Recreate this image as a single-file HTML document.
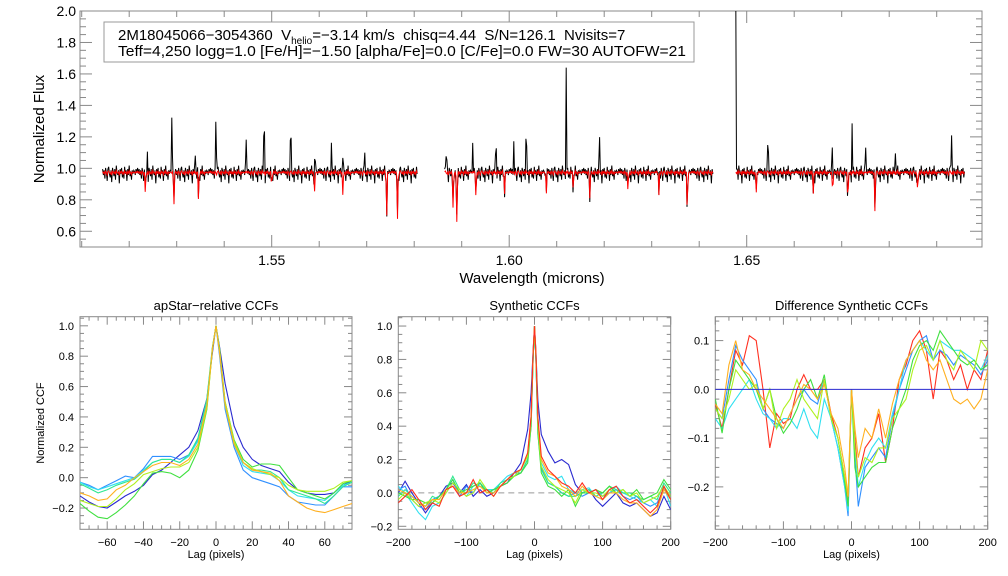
<!DOCTYPE html>
<html><head><meta charset="utf-8">
<style>
html,body{margin:0;padding:0;background:#fff;}
svg{display:block;font-family:"Liberation Sans",Arial,sans-serif;}
</style></head>
<body>
<svg id="chart" width="1008" height="576" viewBox="0 0 1008 576" xmlns="http://www.w3.org/2000/svg">
<rect width="1008" height="576" fill="#fff"/>
<g id="top"></g>
<g id="p1"></g>
<g id="p2"></g>
<g id="p3"></g>
<g>
<rect x="104" y="22" width="590" height="40" fill="#fff" stroke="#999" stroke-width="1"/>
<text x="118" y="40" font-size="15" fill="#000" style="white-space:pre" xml:space="preserve">2M18045066−3054360  V<tspan font-size="10" dy="4">helio</tspan><tspan dy="-4">=−3.14 km/s  chisq=4.44  S/N=126.1  Nvisits=7</tspan></text>
<text x="118" y="56" font-size="15" fill="#000" textLength="568" lengthAdjust="spacingAndGlyphs">Teff=4,250 logg=1.0 [Fe/H]=−1.50 [alpha/Fe]=0.0 [C/Fe]=0.0 FW=30 AUTOFW=21</text>
</g>
</svg>
<script>
// ---------- spectrum data ----------
const specSegments=[[1.5144,1.5807],[1.5864,1.6430],[1.6477,1.6959]];
const emissionWl=[1.5238,1.5290,1.5339,1.5383,1.5446,1.5484,1.5540,1.5591,1.5626,1.5650,1.5696,1.5868,1.5923,1.5972,1.6010,1.6036,1.6120,1.6190,1.6477,1.6545,1.6680,1.6722,1.6750,1.6813,1.6931];
const emissionPeak=[1.12,1.42,1.12,1.48,1.23,1.52,1.38,1.26,1.17,1.28,1.11,1.22,1.15,1.30,1.20,1.35,1.62,1.25,2.05,1.28,1.22,1.28,1.20,1.15,1.30];
const absorbWl=[1.5234,1.5294,1.5346,1.5500,1.5590,1.5650,1.5742,1.5765,1.5882,1.5890,1.5930,1.5990,1.6078,1.6135,1.6170,1.6250,1.6315,1.6375,1.6520,1.6640,1.6681,1.6713,1.6770,1.6860];
const absorbDepth=[0.82,0.73,0.78,0.88,0.83,0.82,0.67,0.66,0.70,0.60,0.80,0.83,0.82,0.86,0.80,0.84,0.83,0.70,0.84,0.84,0.82,0.76,0.72,0.83];
const noise=[0.02,-0.03,0.01,-0.06,0.03,-0.01,-0.08,0.02,0.04,-0.02,-0.05,0.01,-0.09,0.03,0.00,-0.04,0.02,-0.07,0.05,-0.01,-0.03,0.01,-0.10,0.02,-0.02,0.03,-0.05,0.00,-0.06,0.04,-0.02,0.01,-0.08,0.02,-0.03,0.05,-0.04,0.00,-0.07,0.01,-0.02,0.01,0.00,-0.03,0.02,-0.01,0.03,-0.02];
const fluxTicks=[0.6,0.8,1.0,1.2,1.4,1.6,1.8,2.0];
const wlTicks=[1.55,1.60,1.65];

// ---------- CCF data ----------
const colors=["#2a2ad0","#3090ff","#30e0f0","#30e890","#40e040","#b0f020","#ffb020","#ff3020"];
const lag1=[-75,-70,-65,-60,-55,-50,-45,-40,-35,-30,-25,-20,-15,-10,-5,-2,0,2,5,10,15,20,25,30,35,40,45,50,55,60,65,70,75];
const ccf1=[
[-0.12,-0.16,-0.19,-0.20,-0.16,-0.12,-0.09,-0.05,0.02,0.05,0.10,0.15,0.20,0.31,0.52,0.82,1.0,0.86,0.62,0.34,0.20,0.12,0.08,0.06,0.04,-0.03,-0.08,-0.10,-0.11,-0.11,-0.10,-0.05,-0.02],
[-0.03,-0.05,-0.08,-0.05,-0.02,0.01,0.00,0.06,0.14,0.14,0.14,0.12,0.15,0.25,0.50,0.85,1.0,0.80,0.45,0.20,0.05,0.00,-0.02,-0.04,-0.06,-0.12,-0.16,-0.17,-0.18,-0.18,-0.12,-0.06,-0.06],
[-0.03,-0.06,-0.08,-0.06,-0.04,-0.02,0.00,0.05,0.10,0.12,0.12,0.10,0.14,0.24,0.50,0.85,1.0,0.82,0.47,0.22,0.08,0.04,0.03,0.02,-0.02,-0.08,-0.12,-0.13,-0.14,-0.15,-0.10,-0.05,-0.03],
[-0.04,-0.07,-0.10,-0.08,-0.05,-0.03,-0.01,0.04,0.10,0.12,0.12,0.10,0.15,0.26,0.52,0.86,1.0,0.83,0.48,0.23,0.10,0.05,0.05,0.04,0.00,-0.08,-0.10,-0.12,-0.14,-0.17,-0.12,-0.06,-0.03],
[-0.17,-0.22,-0.26,-0.27,-0.23,-0.18,-0.12,-0.04,0.03,0.04,0.03,0.00,0.05,0.18,0.45,0.85,1.0,0.85,0.50,0.25,0.12,0.07,0.09,0.09,0.08,0.00,-0.08,-0.10,-0.12,-0.14,-0.10,-0.04,-0.02],
[-0.15,-0.17,-0.19,-0.19,-0.14,-0.08,-0.04,0.02,0.04,0.06,0.07,0.07,0.10,0.20,0.46,0.84,1.0,0.84,0.50,0.24,0.10,0.06,0.04,0.02,0.00,-0.05,-0.08,-0.09,-0.09,-0.09,-0.07,-0.03,-0.02],
[-0.10,-0.12,-0.15,-0.14,-0.08,-0.05,0.00,0.04,0.08,0.10,0.10,0.08,0.12,0.22,0.48,0.85,1.0,0.82,0.48,0.22,0.10,0.05,0.04,0.03,-0.02,-0.12,-0.16,-0.20,-0.22,-0.23,-0.21,-0.19,-0.17]];
const ccf1Colors=[0,1,2,3,4,5,6];
const lag2=[-200,-190,-180,-170,-160,-150,-140,-130,-120,-110,-100,-90,-80,-70,-60,-50,-40,-30,-20,-10,-5,-2,0,2,5,10,20,30,40,50,60,70,80,90,100,110,120,130,140,150,160,170,180,190,200];
const ccf2=[
[0.00,0.07,0.00,-0.06,-0.12,-0.06,-0.02,0.04,0.06,0.00,0.05,-0.02,0.02,-0.02,0.00,0.04,0.06,0.12,0.18,0.38,0.60,0.85,1.0,0.85,0.55,0.35,0.25,0.18,0.20,0.17,0.05,0.00,0.02,-0.04,-0.08,-0.04,0.00,-0.06,-0.08,-0.06,-0.10,-0.14,-0.12,-0.02,-0.10],
[0.02,0.04,-0.04,-0.08,-0.10,-0.04,-0.02,0.02,0.08,-0.02,0.04,0.00,0.06,0.00,0.02,0.04,0.08,0.12,0.12,0.20,0.40,0.80,1.0,0.80,0.35,0.15,0.06,0.04,0.00,-0.02,0.00,-0.02,0.00,0.02,-0.02,0.00,0.02,-0.02,-0.04,-0.02,-0.06,-0.08,-0.06,0.02,-0.02],
[0.04,0.00,-0.06,-0.12,-0.16,-0.08,-0.06,0.00,0.06,0.02,-0.02,0.04,0.06,0.02,0.02,0.06,0.10,0.12,0.14,0.22,0.45,0.82,1.0,0.82,0.40,0.18,0.10,0.08,0.10,0.02,0.00,0.02,0.03,-0.02,-0.04,0.00,0.04,0.00,-0.02,-0.04,-0.06,-0.04,-0.08,0.04,-0.08],
[-0.02,0.02,-0.02,-0.06,-0.08,-0.02,-0.04,0.02,0.10,0.02,0.00,0.06,0.04,0.02,0.00,0.06,0.08,0.10,0.12,0.20,0.42,0.80,1.0,0.80,0.38,0.14,0.06,0.04,0.00,-0.02,-0.02,0.00,0.02,-0.02,0.00,0.04,0.02,0.00,0.00,-0.02,-0.04,-0.02,-0.04,0.06,0.00],
[0.00,-0.02,-0.04,-0.04,-0.06,-0.06,-0.02,0.02,0.08,0.00,0.02,0.04,0.06,0.00,0.02,0.04,0.06,0.10,0.12,0.18,0.40,0.80,1.0,0.80,0.36,0.12,0.04,0.02,-0.02,0.02,-0.08,0.00,0.00,0.02,0.00,0.04,0.00,0.02,-0.02,0.02,-0.04,-0.02,0.00,0.08,0.02],
[-0.04,0.00,-0.04,-0.08,-0.06,-0.04,-0.06,0.00,0.06,0.02,-0.02,0.00,0.08,0.02,-0.02,0.04,0.08,0.10,0.14,0.22,0.44,0.82,1.0,0.82,0.40,0.16,0.08,0.04,0.02,0.00,-0.06,0.02,0.00,0.00,-0.02,0.02,0.00,0.02,-0.02,0.00,-0.06,-0.04,-0.02,0.04,-0.02],
[0.02,0.00,-0.02,-0.06,-0.08,-0.04,-0.04,0.02,0.04,0.00,0.00,0.02,0.04,0.00,0.00,0.04,0.08,0.12,0.14,0.24,0.46,0.84,1.0,0.84,0.45,0.20,0.12,0.10,0.04,0.02,-0.02,0.04,0.00,-0.02,-0.04,0.00,0.00,-0.04,-0.06,-0.06,-0.10,-0.14,-0.10,0.02,-0.04],
[-0.06,-0.02,0.02,-0.04,-0.10,-0.06,-0.08,0.02,0.04,-0.02,0.00,0.08,0.00,0.02,-0.02,0.04,0.08,0.12,0.14,0.24,0.46,0.84,1.0,0.84,0.45,0.22,0.14,0.10,0.06,0.04,0.00,0.06,0.00,0.02,-0.04,0.02,0.04,-0.02,-0.06,-0.04,-0.08,-0.12,-0.08,0.04,-0.04]];
const ccf2Colors=[0,1,2,3,4,5,6,7];
const lag3=[-200,-190,-180,-170,-160,-150,-140,-130,-120,-110,-100,-90,-80,-70,-60,-50,-40,-30,-20,-10,-5,0,5,10,20,30,40,50,60,70,80,90,100,110,120,130,140,150,160,170,180,190,200];
const diff3=[
[-0.03,-0.08,0.00,0.08,0.05,0.11,0.10,0.00,-0.12,-0.05,-0.07,-0.06,0.00,0.03,0.00,0.00,0.02,-0.05,-0.10,-0.18,-0.24,0.00,-0.10,-0.18,-0.12,-0.10,-0.05,-0.15,-0.08,0.02,0.05,0.10,0.12,0.08,-0.02,0.08,0.06,0.02,0.05,0.00,0.04,0.02,0.08],
[-0.04,-0.06,0.02,0.09,0.06,0.04,0.02,-0.04,-0.06,-0.07,-0.08,-0.05,-0.02,0.00,-0.02,-0.03,0.02,-0.06,-0.12,-0.20,-0.26,0.00,-0.14,-0.24,-0.16,-0.14,-0.12,-0.14,-0.06,0.00,0.04,0.08,0.10,0.11,0.06,0.08,0.07,0.05,0.07,0.06,0.05,0.03,0.06],
[-0.06,-0.08,-0.04,-0.02,0.00,0.02,-0.02,-0.05,-0.06,-0.08,-0.06,-0.06,-0.08,-0.04,-0.08,-0.10,-0.02,-0.06,-0.12,-0.20,-0.25,0.00,-0.12,-0.20,-0.15,-0.12,-0.10,-0.12,-0.05,0.00,0.06,0.08,0.10,0.08,0.06,0.10,0.09,0.08,0.08,0.07,0.06,0.04,0.07],
[-0.02,-0.09,0.00,0.06,0.04,0.02,0.00,-0.04,0.00,-0.06,-0.09,-0.07,-0.04,0.00,0.02,-0.02,0.03,-0.06,-0.10,-0.19,-0.24,0.00,-0.16,-0.20,-0.18,-0.16,-0.15,-0.15,-0.08,-0.04,0.00,0.06,0.09,0.10,0.08,0.12,0.10,0.08,0.06,0.05,0.06,0.04,0.05],
[-0.04,-0.06,-0.02,0.04,0.02,0.00,0.01,-0.04,0.00,-0.08,-0.04,-0.02,0.02,-0.02,-0.04,-0.06,0.02,-0.06,-0.10,-0.18,-0.22,0.00,-0.12,-0.18,-0.14,-0.15,-0.12,-0.12,-0.06,-0.04,-0.02,0.04,0.08,0.09,0.06,0.10,0.06,0.04,0.08,0.06,0.04,0.10,0.08],
[-0.03,-0.05,0.05,0.10,0.04,0.03,0.00,-0.02,-0.04,-0.06,-0.08,-0.05,-0.02,0.01,0.00,-0.02,0.01,-0.05,-0.08,-0.16,-0.22,0.00,-0.08,-0.14,-0.08,-0.10,-0.04,-0.10,-0.03,0.02,0.06,0.08,0.10,0.06,0.04,0.06,0.02,-0.02,-0.03,-0.02,-0.04,-0.02,0.04]];
const diff3Colors=[7,1,2,4,5,6];

// ---------- helpers ----------
const NS="http://www.w3.org/2000/svg";
function mk(tag,attrs,parent){const e=document.createElementNS(NS,tag);for(const k in attrs)e.setAttribute(k,attrs[k]);parent.appendChild(e);return e;}
function lin(d0,d1,r0,r1){return v=>r0+(v-d0)*(r1-r0)/(d1-d0);}

function frame(g,x0,y0,x1,y1,xs,ys,xMaj,xMin,yMaj,yMin,tl){
  const f=mk('rect',{x:x0,y:y0,width:x1-x0,height:y1-y0,fill:'none',stroke:'#888','stroke-width':1},g);
  
  
  for(let v=Math.ceil(xs.d0/xMin-1e-6)*xMin;v<=xs.d1+1e-9;v+=xMin){
    const x=xs(v);const isMaj=Math.abs(v/xMaj-Math.round(v/xMaj))<1e-4;const L=isMaj?tl:tl/2;
    mk('line',{x1:x,x2:x,y1:y1,y2:y1-L,stroke:'#888'},g);mk('line',{x1:x,x2:x,y1:y0,y2:y0+L,stroke:'#888'},g);
  }
  for(let v=Math.ceil(ys.d0/yMin-1e-6)*yMin;v<=ys.d1+1e-9;v+=yMin){
    const y=ys(v);const isMaj=Math.abs(v/yMaj-Math.round(v/yMaj))<1e-4;const L=isMaj?tl:tl/2;
    mk('line',{x1:x0,x2:x0+L,y1:y,y2:y,stroke:'#888'},g);mk('line',{x1:x1,x2:x1-L,y1:y,y2:y,stroke:'#888'},g);
  }
}
function xlabels(g,xs,vals,y,fs,fmt){vals.forEach(v=>{const t=mk('text',{x:xs(v),y:y,'font-size':fs,'text-anchor':'middle'},g);t.textContent=fmt(v);
  
  });}
function ylabels(g,ys,vals,x,fs,fmt){vals.forEach(v=>{const t=mk('text',{x:x,y:ys(v)+fs*0.36,'font-size':fs,'text-anchor':'end'},g);t.textContent=fmt(v);
  
  });}
function num(v,d){return (v<0?'−':'')+Math.abs(v).toFixed(d);}
function title(g,txt,x,y,fs,rot,name){const t=mk('text',{x:x,y:y,'font-size':fs,'text-anchor':'middle'},g);if(rot)t.setAttribute('transform','rotate(-90 '+x+' '+y+')');t.textContent=txt;
  
  }

// ---------- top spectrum ----------
(function(){
  const g=document.getElementById('top');
  const xs=lin(1.55,1.65,271.7,746.7);xs.d0=1.5096;xs.d1=1.6995;
  const ys=lin(2.0,0.5,11,247);ys.d0=0.5;ys.d1=2.0;
  frame(g,80,11,982,247,xs,ys,0.05,0.01,0.2,0.05,12);
  xlabels(g,xs,wlTicks,265,14,v=>v.toFixed(2));
  ylabels(g,ys,fluxTicks,76,14,v=>v.toFixed(1));
  title(g,'Wavelength (microns)',532,283,15,false,'x-axis-title');
  title(g,'Normalized Flux',44,129,15,true,'y-axis-title');
  const clip=mk('clipPath',{id:'topclip'},g);mk('rect',{x:80,y:11,width:902,height:236},clip);
  function feat(wl,arrW,arrV,base,w){let s=0;for(let k=0;k<arrW.length;k++){const d=(wl-arrW[k])/w;if(Math.abs(d)<4)s+=(arrV[k]-base)*Math.exp(-d*d);}return s;}
  specSegments.forEach((seg,si)=>{
    let pb='',pr='';let i=0;
    for(let wl=seg[0];wl<=seg[1];wl+=0.00016,i++){
      const n=noise[(i+si*7)%noise.length];
      const fb=0.98+n*0.75+feat(wl,emissionWl,emissionPeak,0.975,0.00009)+feat(wl,absorbWl,absorbDepth,0.975,0.0001)*0.9;
      const fr=0.975+n*0.2+feat(wl,absorbWl,absorbDepth,0.975,0.0001);
      pb+=(pb?'L':'M')+xs(wl).toFixed(1)+' '+ys(fb).toFixed(1);
      pr+=(pr?'L':'M')+xs(wl).toFixed(1)+' '+ys(Math.min(fr,0.99)).toFixed(1);
    }
    const b=mk('path',{d:pb,fill:'none',stroke:'#000','stroke-width':1,'clip-path':'url(#topclip)'},g);
    
    
    const r=mk('path',{d:pr,fill:'none',stroke:'#f00','stroke-width':1,'clip-path':'url(#topclip)'},g);
    
    
  });
})();

// ---------- CCF panels ----------
function panel(id,x0,x1,xd,yd,xMaj,xMin,yMaj,yMin,xTicks,yTicks,yDec,ttl,lags,series,cols,name){
  const g=document.getElementById(id);const y0=316.7,y1=529.3;
  const xs=lin(xd[0],xd[1],x0,x1);xs.d0=xd[0];xs.d1=xd[1];
  const ys=lin(yd[1],yd[0],y0,y1);ys.d0=yd[0];ys.d1=yd[1];
  frame(g,x0,y0,x1,y1,xs,ys,xMaj,xMin,yMaj,yMin,8);
  xlabels(g,xs,xTicks,546,11,v=>v===0?'0':num(v,0));
  ylabels(g,ys,yTicks,x0-6,11,v=>num(v,yDec));
  title(g,ttl,(x0+x1)/2,310,13,false,'panel-title');
  title(g,'Lag (pixels)',(x0+x1)/2,558,11,false,'x-axis-title');
  const cid=id+'clip';const c=mk('clipPath',{id:cid},g);mk('rect',{x:x0,y:y0,width:x1-x0,height:y1-y0},c);
  return {g,xs,ys,cid,draw(){series.forEach((s,k)=>{let d='';s.forEach((v,j)=>{d+=(j?'L':'M')+xs(lags[j]).toFixed(1)+' '+ys(v).toFixed(1);});
    const p=mk('path',{d:d,fill:'none',stroke:colors[cols[k]],'stroke-width':1.1,'clip-path':'url(#'+cid+')'},g);
    
    });}};
}
const P1=panel('p1',80,352,[-75,75],[-0.34,1.06],20,5,0.2,0.05,[-60,-40,-20,0,20,40,60],[-0.2,0,0.2,0.4,0.6,0.8,1.0],1,'apStar−relative CCFs',lag1,ccf1,ccf1Colors,'apstar-ccf');
title(P1.g,'Normalized CCF',44,423,11,true,'y-axis-title');
P1.draw();
const P2=panel('p2',398.3,670.7,[-200,200],[-0.218,1.056],100,20,0.2,0.05,[-200,-100,0,100,200],[-0.2,0,0.2,0.4,0.6,0.8,1.0],1,'Synthetic CCFs',lag2,ccf2,ccf2Colors,'synthetic-ccf');
const z2=mk('line',{x1:398.3,x2:670.7,y1:P2.ys(0),y2:P2.ys(0),stroke:'#999','stroke-dasharray':'6,4'},P2.g);


P2.draw();
const P3=panel('p3',715.3,987.7,[-200,200],[-0.287,0.149],100,20,0.1,0.02,[-200,-100,0,100,200],[-0.2,-0.1,0,0.1],1,'Difference Synthetic CCFs',lag3,diff3,diff3Colors,'difference-ccf');
P3.draw();
const z3=mk('line',{x1:715.3,x2:987.7,y1:P3.ys(0),y2:P3.ys(0),stroke:'#2a2ad0','stroke-width':1},P3.g);


</script>
</body></html>
